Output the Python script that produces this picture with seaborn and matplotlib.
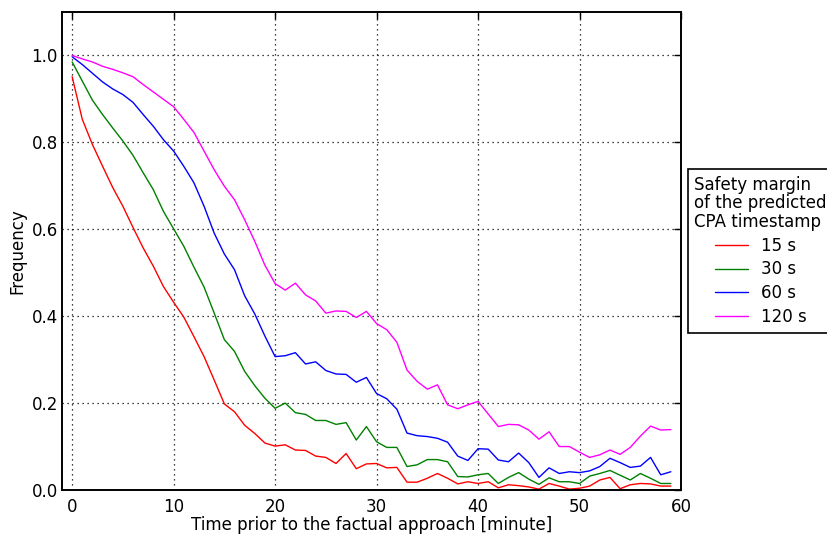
import numpy as np
import pandas as pd
import matplotlib
matplotlib.use("Agg")
import matplotlib.pyplot as plt
import seaborn as sns

minutes = list(range(60))
margins = ["15 s", "30 s", "60 s", "120 s"]
colors = ["#ff0000", "#008000", "#0000ff", "#ff00ff"]

freq_15 = [0.951, 0.853, 0.795, 0.745, 0.696, 0.653, 0.604, 0.557, 0.515, 0.468,
           0.432, 0.398, 0.353, 0.307, 0.253, 0.198, 0.180, 0.149, 0.130, 0.108,
           0.101, 0.104, 0.092, 0.091, 0.078, 0.075, 0.061, 0.084, 0.049, 0.060,
           0.061, 0.051, 0.052, 0.018, 0.018, 0.027, 0.038, 0.027, 0.014, 0.019,
           0.015, 0.019, 0.005, 0.012, 0.010, 0.007, 0.002, 0.015, 0.009, 0.002,
           0.004, 0.009, 0.023, 0.029, 0.003, 0.012, 0.015, 0.014, 0.009, 0.009]
freq_30 = [0.985, 0.941, 0.897, 0.864, 0.833, 0.803, 0.770, 0.730, 0.691, 0.641,
           0.601, 0.561, 0.513, 0.467, 0.407, 0.346, 0.319, 0.273, 0.240, 0.211,
           0.188, 0.200, 0.178, 0.174, 0.160, 0.160, 0.151, 0.155, 0.115, 0.146,
           0.111, 0.098, 0.098, 0.054, 0.058, 0.070, 0.070, 0.065, 0.031, 0.030,
           0.035, 0.038, 0.015, 0.029, 0.040, 0.025, 0.013, 0.028, 0.019, 0.019,
           0.015, 0.032, 0.038, 0.045, 0.034, 0.023, 0.038, 0.027, 0.015, 0.015]
freq_60 = [0.997, 0.979, 0.959, 0.939, 0.923, 0.910, 0.892, 0.864, 0.837, 0.806,
           0.780, 0.745, 0.707, 0.653, 0.591, 0.543, 0.507, 0.447, 0.405, 0.354,
           0.307, 0.309, 0.316, 0.290, 0.295, 0.275, 0.267, 0.266, 0.248, 0.259,
           0.222, 0.210, 0.186, 0.131, 0.125, 0.123, 0.119, 0.110, 0.078, 0.068,
           0.095, 0.094, 0.069, 0.065, 0.085, 0.063, 0.029, 0.051, 0.038, 0.042,
           0.040, 0.044, 0.054, 0.073, 0.063, 0.052, 0.055, 0.075, 0.035, 0.042]
freq_120 = [1.000, 0.992, 0.985, 0.975, 0.968, 0.960, 0.951, 0.933, 0.916, 0.899,
            0.882, 0.853, 0.823, 0.780, 0.737, 0.699, 0.668, 0.622, 0.572, 0.517,
            0.475, 0.460, 0.476, 0.449, 0.435, 0.407, 0.412, 0.411, 0.397, 0.411,
            0.383, 0.369, 0.340, 0.276, 0.250, 0.232, 0.242, 0.196, 0.187, 0.196,
            0.204, 0.175, 0.146, 0.151, 0.150, 0.138, 0.117, 0.134, 0.100, 0.100,
            0.087, 0.075, 0.081, 0.092, 0.082, 0.098, 0.124, 0.147, 0.138, 0.139]

x_ticks = [0, 10, 20, 30, 40, 50, 60]
y_ticks = [0.0, 0.2, 0.4, 0.6, 0.8, 1.0]

series = [freq_15, freq_30, freq_60, freq_120]
df = pd.concat([pd.DataFrame({"minute": minutes, "freq": s, "margin": m})
                for s, m in zip(series, margins)], ignore_index=True)

sns.set_style("white")
plt.rcParams["font.family"] = ["DejaVu Sans"]
plt.rcParams["text.color"] = "black"
plt.rcParams["axes.labelcolor"] = "black"

fig = plt.figure(figsize=(8.27, 5.37), dpi=100)
ax = fig.add_axes([62/827, 1-490/537, (681-62)/827, (490-12)/537])

sns.lineplot(data=df, x="minute", y="freq", hue="margin", hue_order=margins,
             palette=dict(zip(margins, colors)), linewidth=1.0, ax=ax)

ax.set_xlim(-1, 60)
ax.set_ylim(0, 1.1)
ax.set_xticks(x_ticks)
ax.set_yticks(y_ticks)
ax.set_yticklabels([f"{v:.1f}" for v in y_ticks])
ax.grid(True, color="black", linestyle=(0, (1, 3)), linewidth=0.9)
ax.tick_params(axis="x", direction="in", length=5, width=1, top=True,
               labelsize=12, colors="black", pad=6)
ax.tick_params(axis="y", direction="in", length=5, width=1, right=True,
               labelsize=12, colors="black", pad=3)
for sp in ax.spines.values():
    sp.set_visible(True)
    sp.set_color("black")
    sp.set_linewidth(1.4)
ax.set_xlabel("Time prior to the factual approach [minute]", fontsize=12,
              color="black", labelpad=0)
ax.set_ylabel("Frequency", fontsize=12, color="black", labelpad=4)

handles, labels = ax.get_legend_handles_labels()
leg = ax.legend(handles, labels, title="Safety margin\nof the predicted\nCPA timestamp",
                loc="center left", bbox_to_anchor=(1.011, 0.5), borderaxespad=0,
                fontsize=12, title_fontsize=12, frameon=True, fancybox=False,
                edgecolor="black", framealpha=1, handlelength=2.0,
                labelspacing=0.35)
leg.get_title().set_multialignment("left")
leg.get_title().set_linespacing(1.03)
leg.get_title().set_color("black")
for t in leg.get_texts():
    t.set_color("black")
leg.get_frame().set_linewidth(1.2)

fig.savefig("out.png", dpi=100)
